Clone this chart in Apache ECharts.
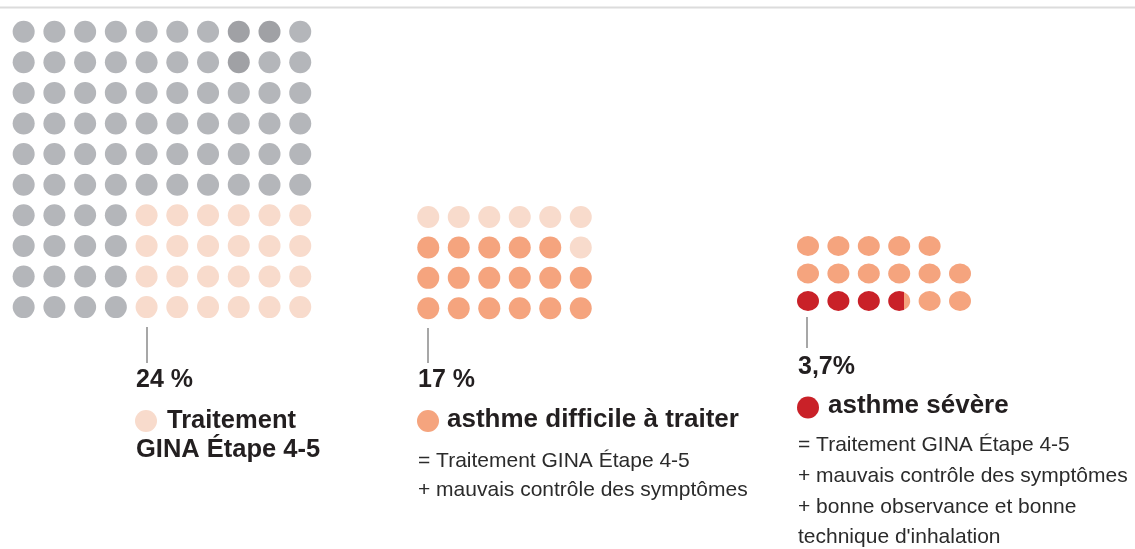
<!DOCTYPE html>
<html>
<head>
<meta charset="utf-8">
<script src="https://cdn.jsdelivr.net/npm/echarts@6/dist/echarts.min.js"></script>
<style>html,body{margin:0;padding:0;background:#fff}#c{width:1135px;height:549px}</style>
</head>
<body>
<div id="c"></div>
<script>
// ---- data ----
// G = gray (population), D = darker gray, P = GINA step 4-5, O = difficult-to-treat, R = severe, r = partial severe, . = empty
const treatedGrid = [
  'GGGGGGGDDG',
  'GGGGGGGDGG',
  'GGGGGGGGGG',
  'GGGGGGGGGG',
  'GGGGGGGGGG',
  'GGGGGGGGGG',
  'GGGGPPPPPP',
  'GGGGPPPPPP',
  'GGGGPPPPPP',
  'GGGGPPPPPP'
];
const difficultGrid = [
  'PPPPPP',
  'OOOOOP',
  'OOOOOO',
  'OOOOOO'
];
const severeGrid = [
  'OOOOO.',
  'OOOOOO',
  'RRRrOO'
];
const severePercent = 3.7;
const pctLabels = ['24 %', '17 %', '3,7%'];
const titles = [['Traitement', 'GINA Étape 4-5'], ['asthme difficile à traiter'], ['asthme sévère']];
const notes = [
  [],
  ['= Traitement GINA Étape 4-5', '+ mauvais contrôle des symptômes'],
  ['= Traitement GINA Étape 4-5', '+ mauvais contrôle des symptômes', '+ bonne observance et bonne', "technique d'inhalation"]
];

// ---- styles ----
const colors = { G: '#b4b6ba', D: '#a0a1a5', P: '#f8dbcc', O: '#f5a47e', R: '#c92128' };
const legendColors = ['#f8dbcc', '#f5a47e', '#c92128'];
const textDark = '#231f20';
const textReg = '#2b2b2b';
const FB = '"Liberation Sans", Arial, sans-serif';

const partialFrac = severePercent - Math.floor(severePercent);

function buildData(rows) {
  const out = [];
  rows.forEach((row, r) => {
    row.split('').forEach((ch, c) => {
      if (ch === '.') return;
      let color;
      if (ch === 'r') {
        color = new echarts.graphic.LinearGradient(0, 0, 1, 0, [
          { offset: 0, color: colors.R }, { offset: partialFrac, color: colors.R },
          { offset: partialFrac, color: colors.O }, { offset: 1, color: colors.O }
        ]);
      } else color = colors[ch];
      out.push({ value: [c, r], itemStyle: { color, opacity: 1 } });
    });
  });
  return out;
}

const panels = [
  { rows: treatedGrid, left: 8.3, top: 16.4, width: 307.3, height: 306, size: 22 },
  { rows: difficultGrid, left: 413, top: 201.8, width: 183, height: 121.7, size: 22 },
  { rows: severeGrid, left: 792.8, top: 232.2, width: 182.4, height: 82.5, size: [22, 20] }
];

const grids = [], xAxes = [], yAxes = [], series = [];
panels.forEach((p, i) => {
  const cols = Math.max(...p.rows.map(r => r.length));
  grids.push({ left: p.left, top: p.top, width: p.width, height: p.height });
  xAxes.push({ type: 'value', gridIndex: i, min: -0.5, max: cols - 0.5, show: false });
  yAxes.push({ type: 'value', gridIndex: i, min: -0.5, max: p.rows.length - 0.5, inverse: true, show: false });
  series.push({
    type: 'scatter', xAxisIndex: i, yAxisIndex: i, symbol: 'circle', symbolSize: p.size,
    itemStyle: { opacity: 1 },
    data: buildData(p.rows), silent: true
  });
});

// ---- annotation layout ----
const graphics = [];
graphics.push({ type: 'line', shape: { x1: 0, y1: 7.5, x2: 1135, y2: 7.5 }, style: { stroke: '#dcdcdc', lineWidth: 2 } });

const ann = [
  { lx: 147, ly1: 327, ly2: 363, tx: 136, pctY: 389, cx: 146, cy: 421, titleY: [430, 459], titleSize: 25.5, titleXs: [167, 136], notesY: [] },
  { lx: 428, ly1: 328, ly2: 363, tx: 418, pctY: 389, cx: 428, cy: 421, titleY: [429], titleSize: 26, titleXs: [447], notesY: [469, 498] },
  { lx: 807, ly1: 317, ly2: 348, tx: 798, pctY: 376, cx: 808, cy: 407.5, titleY: [415], titleSize: 26, titleXs: [828], notesY: [453, 484, 515, 545] }
];

function textAt(x, baseline, str, size, weight, color) {
  return {
    type: 'text', x: x, y: baseline - 0.36 * size,
    style: { text: str, fill: color, font: weight + ' ' + size + 'px ' + FB, verticalAlign: 'middle', align: 'left' }
  };
}

ann.forEach((a, i) => {
  graphics.push({ type: 'line', shape: { x1: a.lx, y1: a.ly1, x2: a.lx, y2: a.ly2 }, style: { stroke: '#8a8a8a', lineWidth: 1.5 } });
  graphics.push(textAt(a.tx, a.pctY, pctLabels[i], 25, 'bold', textDark));
  graphics.push({ type: 'circle', shape: { cx: a.cx, cy: a.cy, r: 11 }, style: { fill: legendColors[i] } });
  titles[i].forEach((t, k) => {
    graphics.push(textAt(a.titleXs[k], a.titleY[k], t, a.titleSize, 'bold', textDark));
  });
  notes[i].forEach((t, k) => {
    graphics.push(textAt(a.tx, a.notesY[k], t, 21, 'normal', textReg));
  });
});

const chart = echarts.init(document.getElementById('c'), null, { renderer: 'canvas' });
chart.setOption({
  animation: false,
  backgroundColor: '#fff',
  grid: grids,
  xAxis: xAxes,
  yAxis: yAxes,
  series: series,
  graphic: { elements: graphics }
});
</script>
</body>
</html>
